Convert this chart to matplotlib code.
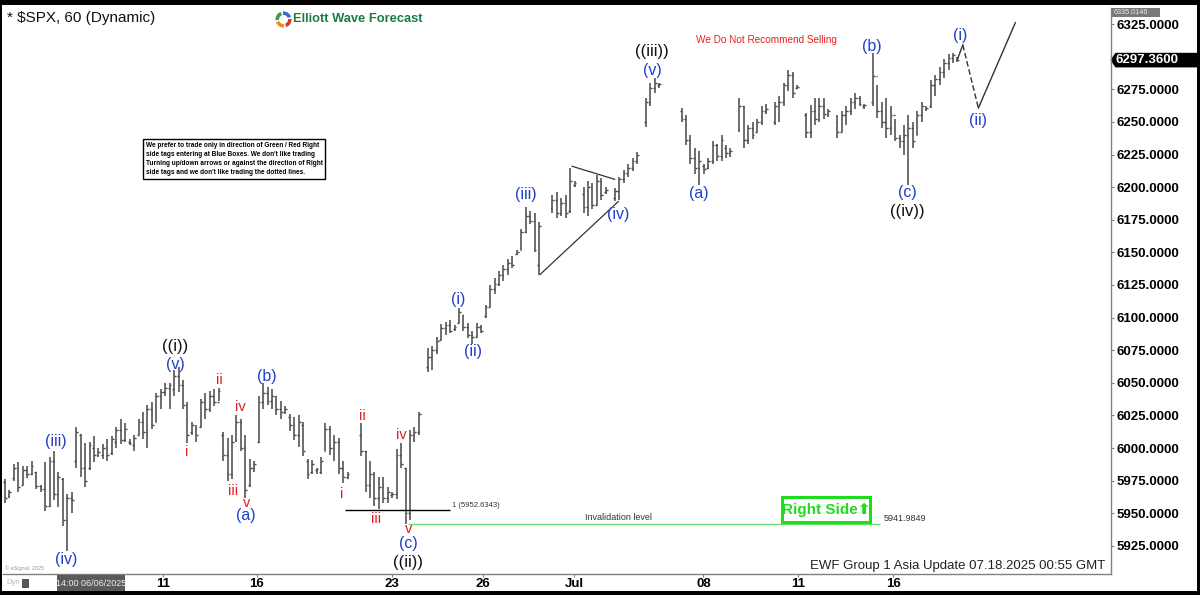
import numpy as np
import matplotlib.pyplot as plt
from matplotlib.patches import Rectangle, Polygon, Wedge
import matplotlib.transforms as mtransforms

plt.rcParams['font.family'] = ['Liberation Sans', 'DejaVu Sans']

nan = np.nan

# hourly bars (nan = empty slot)
highs = [5976, 5968, 5988, 5989, 5986, 5986, 5990, 5982, 5972, 5989,
         5993, 5998, 5982, 5977, 5965, 5966, 6016, 6011, 6004, 6005,
         6009, 6000, 6003, 6007, 6009, 6016, 6022, 6019, 6007, 6010,
         6022, 6028, 6033, 6035, 6042, 6045, 6050, 6050, 6060, 6062,
         6052, 6035, 6020, 6018, 6038, 6042, 6044, 6045, 6046, 6012,
         6008, 6010, 6025, 6022, 6010, 5992, 5990, 6040, 6050, 6047,
         6045, 6040, 6036, 6032, 6026, 6024, 6025, 6020, 5992, 5991,
         5985, 5993, 6019, 6017, 6010, 6008, 5990, 5982, nan, nan,
         6019, 5998, 5990, 5982, 5978, 5978, 5970, 5966, 5999, 6004,
         5985, 6014, 6016, 6028, nan, 6077, 6078, 6085, 6095, 6097,
         6098, 6094, 6107, 6102, 6096, 6090, 6096, 6094, 6110, 6125,
         6130, 6136, 6140, 6145, 6147, 6152, 6168, 6185, 6182, 6180,
         6173, nan, nan, 6194, 6196, 6192, 6194, 6215, 6205, nan,
         6200, 6205, 6203, 6209, 6207, 6200, nan, 6199, 6208, 6213,
         6218, 6222, 6227, nan, 6268, 6280, 6284, 6280, nan, nan,
         nan, nan, 6261, 6255, 6240, 6230, 6228, 6218, 6222, 6235,
         6233, 6240, 6232, 6230, nan, 6268, 6262, 6248, 6250, 6252,
         6262, 6264, nan, 6265, 6270, 6280, 6290, 6288, 6278, nan,
         6257, 6263, 6268, 6268, 6268, 6260, nan, 6255, 6258, 6262,
         6268, 6272, 6270, 6264, nan, 6303, 6278, 6265, 6268, 6262,
         6252, 6240, 6248, 6255, 6250, 6258, 6265, 6262, 6282, 6286,
         6292, 6298, 6302, 6303, 6300]
lows = [5958, 5962, 5975, 5966, 5972, 5977, 5979, 5969, 5966, 5952,
        5955, 5960, 5955, 5940, 5921, 5950, 5985, 5978, 5970, 5983,
        5989, 5993, 5992, 5990, 5995, 6000, 6003, 6005, 6002, 5998,
        6010, 6007, 6000, 6015, 6020, 6030, 6040, 6030, 6040, 6043,
        6030, 6004, 6010, 6005, 6016, 6022, 6028, 6032, 6036, 5990,
        5975, 5976, 6005, 5998, 5962, 5970, 5982, 6004, 6030, 6033,
        6030, 6025, 6022, 6026, 6013, 6006, 6001, 5994, 5976, 5980,
        5980, 5980, 5998, 5995, 5990, 5980, 5973, 5976, nan, nan,
        5994, 5966, 5962, 5956, 5953, 5958, 5958, 5962, 5961, 5985,
        5942, 5945, 6005, 6010, nan, 6058, 6060, 6072, 6083, 6087,
        6088, 6090, 6096, 6090, 6084, 6080, 6085, 6088, 6100, 6108,
        6118, 6124, 6128, 6133, 6138, 6148, 6152, 6165, 6172, 6150,
        6133, nan, nan, 6180, 6176, 6178, 6176, 6180, 6200, nan,
        6180, 6178, 6183, 6186, 6190, 6195, nan, 6189, 6190, 6203,
        6208, 6212, 6218, nan, 6246, 6262, 6272, 6276, nan, nan,
        nan, nan, 6250, 6232, 6218, 6210, 6202, 6210, 6214, 6218,
        6220, 6220, 6222, 6223, nan, 6242, 6230, 6233, 6237, 6242,
        6248, 6256, nan, 6248, 6250, 6262, 6274, 6268, 6275, nan,
        6238, 6238, 6248, 6250, 6252, 6254, nan, 6238, 6242, 6248,
        6255, 6260, 6262, 6260, nan, 6262, 6253, 6245, 6238, 6240,
        6235, 6230, 6225, 6202, 6230, 6240, 6250, 6258, 6261, 6270,
        6278, 6284, 6290, 6295, 6296]
opens = [5974, 5963, 5977, 5985, 5972, 5983, 5980, 5982, 5971, 5969,
         5956, 5990, 5965, 5976, 5945, 5962, 5990, 6010, 5985, 5985,
         6000, 5995, 5995, 6000, 5996, 6005, 6014, 6006, 6005, 6002,
         6010, 6020, 6012, 6030, 6020, 6040, 6043, 6046, 6045, 6055,
         6048, 6033, 6012, 6015, 6016, 6035, 6030, 6040, 6035, 6010,
         5995, 5980, 6006, 6020, 6000, 5972, 5985, 6005, 6035, 6042,
         6036, 6040, 6030, 6028, 6024, 6018, 6010, 6018, 5990, 5982,
         5983, 5982, 5998, 6015, 6000, 6005, 5985, 5978, nan, nan,
         6010, 5998, 5972, 5980, 5962, 5970, 5962, 5964, 5965, 5995,
         5985, 5950, 6010, 6012, nan, 6062, 6070, 6075, 6083, 6092,
         6094, 6091, 6096, 6102, 6093, 6087, 6085, 6093, 6101, 6108,
         6122, 6126, 6133, 6137, 6142, 6149, 6152, 6166, 6178, 6174,
         6140, nan, nan, 6184, 6190, 6180, 6188, 6182, 6202, nan,
         6195, 6185, 6200, 6186, 6205, 6196, nan, 6192, 6197, 6206,
         6211, 6215, 6220, nan, 6250, 6265, 6276, 6278, nan, nan,
         nan, nan, 6258, 6252, 6236, 6222, 6215, 6216, 6215, 6220,
         6232, 6224, 6230, 6226, nan, 6244, 6262, 6236, 6245, 6242,
         6250, 6258, nan, 6250, 6262, 6265, 6278, 6286, 6276, nan,
         6255, 6242, 6258, 6252, 6262, 6256, nan, 6250, 6242, 6255,
         6258, 6265, 6268, 6262, nan, 6265, 6285, 6258, 6250, 6245,
         6255, 6238, 6235, 6240, 6245, 6240, 6255, 6260, 6262, 6278,
         6283, 6288, 6295, 6299, 6299]
closes = [5962, 5966, 5985, 5970, 5983, 5980, 5986, 5971, 5969, 5956,
          5990, 5965, 5978, 5945, 5962, 5960, 6012, 5985, 5975, 6002,
          5995, 5997, 6000, 5995, 6007, 6014, 6006, 6015, 6004, 6008,
          6020, 6012, 6030, 6018, 6040, 6043, 6046, 6048, 6055, 6048,
          6033, 6010, 6018, 6010, 6035, 6030, 6040, 6035, 6044, 5995,
          5980, 6005, 6020, 6000, 5968, 5985, 5988, 6035, 6042, 6036,
          6040, 6030, 6028, 6030, 6018, 6010, 6020, 5998, 5980, 5988,
          5984, 5990, 6015, 6000, 6005, 5985, 5978, 5980, nan, nan,
          5998, 5972, 5980, 5962, 5970, 5962, 5966, 5965, 5995, 5988,
          5950, 6010, 6012, 6026, nan, 6070, 6075, 6082, 6092, 6094,
          6090, 6093, 6104, 6093, 6087, 6085, 6093, 6090, 6108, 6122,
          6126, 6133, 6137, 6142, 6140, 6150, 6166, 6178, 6174, 6152,
          6170, nan, nan, 6190, 6180, 6188, 6180, 6205, 6203, nan,
          6185, 6200, 6186, 6205, 6194, 6198, nan, 6197, 6206, 6211,
          6215, 6220, 6225, nan, 6265, 6276, 6280, 6279, nan, nan,
          nan, nan, 6252, 6236, 6222, 6215, 6220, 6214, 6220, 6232,
          6224, 6236, 6226, 6228, nan, 6262, 6236, 6245, 6240, 6250,
          6258, 6260, nan, 6262, 6265, 6278, 6286, 6272, 6277, nan,
          6242, 6258, 6252, 6262, 6256, 6258, nan, 6242, 6255, 6258,
          6265, 6268, 6264, 6263, nan, 6285, 6258, 6250, 6245, 6255,
          6238, 6235, 6240, 6245, 6235, 6255, 6262, 6261, 6278, 6283,
          6288, 6295, 6299, 6301, 6297.36]

date_ticks = [35.5, 56.6, 87, 107.4, 127.9, 156.9, 178.2, 199.6]
date_labels = ['11', '16', '23', '26', 'Jul', '08', '11', '16']
price_ticks = [5925, 5950, 5975, 6000, 6025, 6050, 6075, 6100, 6125,
               6150, 6175, 6200, 6225, 6250, 6275, 6325]
last_price = 6297.36
top_price = 6335.0146
fib_level = 5952.6343
invalid_level = 5941.9849

# Elliott wave labels
lab_text = ['(iii)', '(iv)', '((i))', '(v)', 'i', 'ii', 'iii', 'iv', 'v', '(a)', '(b)',
            'i', 'ii', 'iii', 'iv', 'v', '(c)', '((ii))',
            '(i)', '(ii)', '(iii)', '(iv)', '((iii))', '(v)',
            '(a)', '(b)', '(c)', '((iv))', '(i)', '(ii)']
lab_x = [11.5, 13.7, 38.2, 38.2, 40.9, 48.1, 51.2, 52.8, 54.4, 54.2, 58.9,
         75.7, 80.4, 83.4, 89.0, 90.6, 90.6, 90.6,
         101.8, 105.2, 117.1, 137.8, 145.4, 145.4,
         156.0, 194.8, 202.7, 202.7, 214.6, 218.7]
lab_y = [6004.8, 5914.4, 6078.0, 6064.0, 5997, 6052, 5967, 6031.6, 5958, 5948, 6054.6,
         5965, 6024.7, 5946, 6010, 5938, 5926.7, 5912.5,
         6113.6, 6073.7, 6194, 6178.7, 6304.0, 6289.5,
         6194.8, 6308, 6195.6, 6181.0, 6316.6, 6250.7]
lab_kind = ['b', 'b', 'k', 'b', 'r', 'r', 'r', 'r', 'r', 'b', 'b',
            'r', 'r', 'r', 'r', 'r', 'b', 'k',
            'b', 'b', 'b', 'b', 'k', 'b',
            'b', 'b', 'b', 'k', 'b', 'b']

# projected path after the last bar
proj_x = [214, 215.2, 218.7, 227]
proj_y = [6298, 6309, 6260.6, 6326]
# triangle lines of wave (iv)
tri_upper_x = [127.4, 137.0]
tri_upper_y = [6216, 6206]
tri_lower_x = [120.2, 137.8]
tri_lower_y = [6133, 6189]

W, H = 1200, 595
fig = plt.figure(figsize=(12, 5.95), dpi=100, facecolor='black')
fig.patches.append(Rectangle((2 / W, 4 / H), 1195 / W, 586 / H, transform=fig.transFigure,
                             facecolor='white', edgecolor='none', zorder=-5))

ax = fig.add_axes([3 / W, 21 / H, 1108 / W, 566 / H])
ax.set_facecolor('none')
ax.set_xlim(-0.45, 248.5)
ax.set_ylim(5903.5, 6337.3)

x = np.arange(len(highs))
bar_col = '#474747'
ax.vlines(x, lows, highs, color=bar_col, lw=1.1)
ax.hlines(opens, x - 0.4, x, color=bar_col, lw=1)
ax.hlines(closes, x, x + 0.4, color=bar_col, lw=1)

for s in ['top', 'left']:
    ax.spines[s].set_visible(False)
for s in ['right', 'bottom']:
    ax.spines[s].set_color('#808080')
    ax.spines[s].set_linewidth(1)

ax.yaxis.tick_right()
ax.set_yticks(price_ticks)
ax.set_yticklabels([f'{v:.4f}' for v in price_ticks], fontsize=9.5, fontweight='bold')
ax.set_xticks(date_ticks)
ax.set_xticklabels(date_labels, fontsize=9.5, fontweight='bold')
ax.tick_params(axis='y', length=2, pad=2, color='#808080')
ax.tick_params(axis='x', length=2, pad=1, color='#808080')

# wave labels
colors = {'b': '#1f3fcc', 'r': '#e02020', 'k': '#111111'}
sizes = {'b': 11.5, 'r': 10.5, 'k': 12}
for t, lx, ly, k in zip(lab_text, lab_x, lab_y, lab_kind):
    ax.text(lx, ly, t, color=colors[k], fontsize=sizes[k], ha='center', va='center')

# projection
ax.plot(proj_x[:2], proj_y[:2], color='#333333', lw=1)
ax.plot(proj_x[1:3], proj_y[1:3], color='#333333', lw=1, ls=(0, (4, 2)))
ax.plot(proj_x[2:], proj_y[2:], color='#333333', lw=1)

ax.plot(tri_upper_x, tri_upper_y, color='#333333', lw=0.9)
ax.plot(tri_lower_x, tri_lower_y, color='#333333', lw=0.9)

# levels
ax.hlines(fib_level, 76.4, 100, color='black', lw=1)
ax.text(100.5, fib_level + 3, f'1 ({fib_level:.4f})', fontsize=5.5, color='#333333', va='center')
ax.hlines(invalid_level, 90.6, 196.6, color='#6ee06e', lw=1)
ax.text(137.8, invalid_level + 4.5, 'Invalidation level', fontsize=6.5, color='#333333',
        ha='center', va='center')
ax.text(197.5, invalid_level + 4, f'{invalid_level:.4f}', fontsize=6.5, color='#333333', va='center')

# right axis price tags
tr = mtransforms.blended_transform_factory(ax.transAxes, ax.transData)
hh = 5.6
ax.add_patch(Polygon([(0.9995, last_price), (1.004, last_price + hh), (1.078, last_price + hh),
                      (1.078, last_price - hh), (1.004, last_price - hh)],
                     closed=True, transform=tr, facecolor='black', edgecolor='none', clip_on=False))
ax.text(1.0045, last_price, f'{last_price:.4f}', transform=tr, color='white', fontsize=9.5,
        fontweight='bold', va='center', ha='left', clip_on=False)
ax.add_patch(Rectangle((1.0005, 6330.3), 0.044, 7.0, transform=tr, facecolor='#7a7a7a',
                       edgecolor='none', clip_on=False))
ax.text(1.002, 6333.8, f'{top_price:.4f}', transform=tr, color='#e8e8e8', fontsize=5.2,
        va='center', ha='left', clip_on=False)

# header
fig.text(7 / W, 1 - 18 / H, '* $SPX, 60 (Dynamic)', fontsize=11, va='center', color='#111111')
fig.text(293 / W, 1 - 19 / H, 'Elliott Wave Forecast', fontsize=9.3, fontweight='bold',
         color='#1e7b45', va='center')
lax = fig.add_axes([275 / W, 1 - 28 / H, 17 / W, 17 / H])
lax.set_xlim(-1, 1)
lax.set_ylim(-1, 1)
lax.axis('off')
for a0, a1, c in [(20, 110, '#2f6fd0'), (110, 200, '#3aa04a'), (200, 290, '#f08a1c'), (290, 380, '#d83a2a')]:
    lax.add_patch(Wedge((0, 0), 0.95, a0, a1 - 15, width=0.42, facecolor=c, edgecolor='none'))

ax.text(171.0, 6312.7, 'We Do Not Recommend Selling', color='#e8201c', fontsize=7.2,
        ha='center', va='center')

note = ("We prefer to trade only in direction of Green / Red Right\n"
        "side tags entering at Blue Boxes. We don't like trading\n"
        "Turning up/down arrows or against the direction of Right\n"
        "side tags and we don't like trading the dotted lines.")
fig.patches.append(Rectangle((143 / W, 1 - 179 / H), 182 / W, 40 / H, transform=fig.transFigure,
                             facecolor='white', edgecolor='black', lw=1, zorder=3))
fig.text(146 / W, 1 - 159 / H, note, fontsize=4.7, fontweight='bold', va='center', ha='left',
         linespacing=1.45, zorder=4)

# Right Side tag
green = '#1fdc1f'
fig.patches.append(Rectangle((782 / W, 1 - 522 / H), 88 / W, 25 / H, transform=fig.transFigure,
                             facecolor='white', edgecolor=green, lw=2.2, zorder=3))
fig.text(826 / W, 1 - 509.5 / H, 'Right Side\u2b06', fontsize=11, fontweight='bold', color=green,
         ha='center', va='center', zorder=4)

# footer
fig.text(1105 / W, 1 - 566 / H, 'EWF Group 1 Asia Update 07.18.2025 00:55 GMT', fontsize=9.5,
         color='#222222', ha='right', va='center')
fig.text(5 / W, 1 - 568 / H, '\u00a9 eSignal, 2025', fontsize=4, color='#999999', va='center')
fig.text(6 / W, 1 - 583 / H, 'Dyn', fontsize=5.5, color='#bbbbbb', va='center')
fig.patches.append(Rectangle((22 / W, 1 - 588 / H), 7 / W, 9 / H, transform=fig.transFigure,
                             facecolor='#555555', edgecolor='none'))
fig.patches.append(Rectangle((57 / W, 1 - 591 / H), 68 / W, 16 / H, transform=fig.transFigure,
                             facecolor='#5a5a5a', edgecolor='none'))
fig.text(91 / W, 1 - 583 / H, '14:00 06/06/2025', fontsize=6.5, color='#eeeeee',
         ha='center', va='center')

fig.savefig('out.png', dpi=100, facecolor='black')
